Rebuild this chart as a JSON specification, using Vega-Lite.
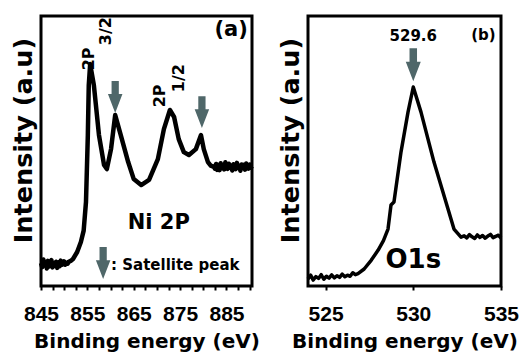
{
  "$schema": "https://vega.github.io/schema/vega-lite/v6.json",
  "padding": {"left": 9, "top": 14, "right": 5, "bottom": 0},
  "background": "white",
  "bounds": "flush",
  "spacing": 56,
  "config": {
    "view": {"stroke": "black", "strokeWidth": 3},
    "axis": {
      "grid": false,
      "domain": false,
      "labelFont": "Liberation Sans",
      "labelFontWeight": "bold",
      "labelFontSize": 21,
      "labelColor": "black",
      "labelFlush": false,
      "tickColor": "black",
      "tickSize": 4,
      "tickWidth": 2,
      "labelPadding": 13,
      "titleFont": "DejaVu Sans",
      "titleFontWeight": "bold",
      "titleColor": "black"
    }
  },
  "datasets": {
    "ni": [
      {"e": 845, "i": 8.5}, {"e": 845.25, "i": 7.0}, {"e": 845.5, "i": 9.8}, {"e": 845.75, "i": 7.6},
      {"e": 846, "i": 8.9}, {"e": 846.25, "i": 6.5}, {"e": 846.5, "i": 9.3}, {"e": 846.75, "i": 7.2},
      {"e": 847, "i": 8.1}, {"e": 847.25, "i": 9.6}, {"e": 847.5, "i": 6.9}, {"e": 847.75, "i": 8.4},
      {"e": 848, "i": 7.5}, {"e": 848.25, "i": 9.0}, {"e": 848.5, "i": 6.7}, {"e": 848.75, "i": 8.8},
      {"e": 849, "i": 7.3}, {"e": 849.25, "i": 9.4}, {"e": 849.5, "i": 7.8}, {"e": 849.75, "i": 8.2},
      {"e": 850, "i": 9.1}, {"e": 850.25, "i": 7.9}, {"e": 850.5, "i": 8.6}, {"e": 850.75, "i": 8.3},
      {"e": 851, "i": 9.0}, {"e": 851.5, "i": 9.4}, {"e": 851.9, "i": 10.0}, {"e": 852.8, "i": 12.6},
      {"e": 853.6, "i": 16.3}, {"e": 854.2, "i": 20.5}, {"e": 854.7, "i": 31.1}, {"e": 855.1, "i": 55.9},
      {"e": 855.3, "i": 74.4}, {"e": 855.6, "i": 82.2}, {"e": 856.4, "i": 74.4}, {"e": 857.5, "i": 55.9},
      {"e": 858.6, "i": 44.8}, {"e": 859.2, "i": 43.3}, {"e": 860.1, "i": 50.7}, {"e": 861.0, "i": 63.3},
      {"e": 862.2, "i": 55.9}, {"e": 863.8, "i": 45.9}, {"e": 865.0, "i": 39.6}, {"e": 866.6, "i": 37.4},
      {"e": 868.3, "i": 39.3}, {"e": 870.2, "i": 47.0}, {"e": 871.5, "i": 58.1}, {"e": 872.8, "i": 65.2},
      {"e": 873.7, "i": 62.6}, {"e": 874.7, "i": 54.4}, {"e": 875.8, "i": 49.6}, {"e": 876.9, "i": 48.5},
      {"e": 878.4, "i": 50.7}, {"e": 879.5, "i": 55.9}, {"e": 880.1, "i": 50.7}, {"e": 881.0, "i": 45.9},
      {"e": 881.6, "i": 44.6}, {"e": 882.3, "i": 44.1},
      {"e": 882.5, "i": 43.5}, {"e": 882.75, "i": 45.2}, {"e": 883, "i": 43.0}, {"e": 883.25, "i": 44.8},
      {"e": 883.5, "i": 42.9}, {"e": 883.75, "i": 45.5}, {"e": 884, "i": 43.6}, {"e": 884.25, "i": 44.9},
      {"e": 884.5, "i": 43.2}, {"e": 884.75, "i": 45.8}, {"e": 885, "i": 44.1}, {"e": 885.25, "i": 43.4},
      {"e": 885.5, "i": 45.3}, {"e": 885.75, "i": 43.8}, {"e": 886, "i": 44.7}, {"e": 886.25, "i": 42.8},
      {"e": 886.5, "i": 45.1}, {"e": 886.75, "i": 44.0}, {"e": 887, "i": 43.3}, {"e": 887.25, "i": 45.6},
      {"e": 887.5, "i": 43.9}, {"e": 887.75, "i": 44.5}, {"e": 888, "i": 42.7}, {"e": 888.25, "i": 45.0},
      {"e": 888.5, "i": 43.7}, {"e": 888.75, "i": 44.9}, {"e": 889, "i": 43.1}, {"e": 889.25, "i": 45.4},
      {"e": 889.5, "i": 44.2}, {"e": 889.75, "i": 43.5}, {"e": 890, "i": 45.0}, {"e": 890.25, "i": 43.8},
      {"e": 890.5, "i": 44.4}
    ],
    "o": [
      {"e": 524.0, "i": 2.6}, {"e": 524.15, "i": 4.0}, {"e": 524.3, "i": 2.2}, {"e": 524.45, "i": 3.5},
      {"e": 524.6, "i": 2.8}, {"e": 524.75, "i": 4.2}, {"e": 524.9, "i": 2.5}, {"e": 525.05, "i": 3.6},
      {"e": 525.2, "i": 2.9}, {"e": 525.35, "i": 4.1}, {"e": 525.5, "i": 3.0}, {"e": 525.65, "i": 3.8},
      {"e": 525.8, "i": 3.2}, {"e": 525.95, "i": 4.4}, {"e": 526.1, "i": 3.4}, {"e": 526.25, "i": 4.0},
      {"e": 526.4, "i": 3.6}, {"e": 526.55, "i": 4.9}, {"e": 526.7, "i": 4.2}, {"e": 526.85, "i": 4.6},
      {"e": 527.2, "i": 6.3}, {"e": 527.6, "i": 9.5}, {"e": 528.0, "i": 13.3}, {"e": 528.3, "i": 16.8},
      {"e": 528.56, "i": 21.1}, {"e": 528.73, "i": 30.0}, {"e": 528.9, "i": 31.1}, {"e": 529.3, "i": 49.6},
      {"e": 529.7, "i": 64.4}, {"e": 530.0, "i": 73.7}, {"e": 530.44, "i": 64.4}, {"e": 531.18, "i": 45.9},
      {"e": 531.98, "i": 28.5}, {"e": 532.32, "i": 21.1}, {"e": 532.72, "i": 18.1},
      {"e": 532.9, "i": 18.6}, {"e": 533.05, "i": 17.8}, {"e": 533.2, "i": 19.0}, {"e": 533.35, "i": 18.2},
      {"e": 533.5, "i": 17.6}, {"e": 533.65, "i": 18.9}, {"e": 533.8, "i": 18.0}, {"e": 533.95, "i": 18.7},
      {"e": 534.1, "i": 17.7}, {"e": 534.25, "i": 18.5}, {"e": 534.4, "i": 19.1}, {"e": 534.55, "i": 17.9},
      {"e": 534.7, "i": 18.4}, {"e": 534.85, "i": 18.8}, {"e": 535.0, "i": 17.8}
    ],
    "niBig": [
      {"e": 886.0, "i": 94.8, "t": "(a)"},
      {"e": 870.4, "i": 23.3, "t": "Ni 2P"}
    ],
    "niRot": [
      {"e": 855.3, "i": 84.1, "t": "2P"},
      {"e": 859.0, "i": 94.4, "t": "3/2"},
      {"e": 870.6, "i": 70.4, "t": "2P"},
      {"e": 874.7, "i": 77.0, "t": "1/2"}
    ],
    "niLegend": [
      {"e": 860.1, "i": 7.8, "t": ": Satellite peak"}
    ],
    "niArrows": [
      {"e": 861.0, "i": 70.0},
      {"e": 879.7, "i": 64.4},
      {"e": 858.4, "i": 8.5}
    ],
    "oSmall": [
      {"e": 530.0, "i": 92.6, "t": "529.6"},
      {"e": 534.0, "i": 93.0, "t": "(b)"}
    ],
    "oBig": [
      {"e": 530.0, "i": 9.6, "t": "O1s"}
    ],
    "oArrows": [
      {"e": 530.0, "i": 81.9}
    ]
  },
  "hconcat": [
    {
      "width": 211,
      "height": 270,
      "encoding": {
        "x": {
          "field": "e", "type": "quantitative",
          "scale": {"domain": [845, 890.5], "nice": false, "zero": false},
          "axis": {
            "title": "Binding energy (eV)",
            "titleFontSize": 20,
            "titlePadding": 7,
            "values": [845, 847.5, 850, 852.5, 855, 857.5, 860, 862.5, 865, 867.5, 870, 872.5, 875, 877.5, 880, 882.5, 885, 887.5, 890],
            "labelExpr": "(datum.value - 845) % 10 == 0 ? datum.label : ''"
          }
        },
        "y": {
          "field": "i", "type": "quantitative",
          "scale": {"domain": [0, 100], "nice": false, "zero": false},
          "axis": {
            "title": "Intensity (a.u)",
            "titleFontSize": 25.5,
            "titlePadding": 5,
            "titleY": 124,
            "labels": false,
            "ticks": false
          }
        }
      },
      "layer": [
        {
          "data": {"name": "ni"},
          "mark": {"type": "line", "color": "black", "strokeWidth": 4.5, "strokeJoin": "round"},
          "encoding": {}
        },
        {
          "data": {"name": "niArrows"},
          "mark": {"type": "point", "shape": "M-0.5,-2.2L0.5,-2.2L0.5,-0.4L1,-0.4L0,2.2L-1,-0.4L-0.5,-0.4Z", "filled": true, "color": "#4f6769", "opacity": 1, "size": 210}
        },
        {
          "data": {"name": "niBig"},
          "mark": {"type": "text", "font": "DejaVu Sans", "fontWeight": "bold", "fontSize": 21, "color": "black", "align": "center", "baseline": "middle"},
          "encoding": {"text": {"field": "t"}}
        },
        {
          "data": {"name": "niRot"},
          "mark": {"type": "text", "font": "DejaVu Sans", "fontWeight": "bold", "fontSize": 16, "color": "black", "align": "center", "baseline": "middle", "angle": 270},
          "encoding": {"text": {"field": "t"}}
        },
        {
          "data": {"name": "niLegend"},
          "mark": {"type": "text", "font": "DejaVu Sans", "fontWeight": "bold", "fontSize": 15, "color": "black", "align": "left", "baseline": "middle"},
          "encoding": {"text": {"field": "t"}}
        }
      ]
    },
    {
      "width": 193,
      "height": 270,
      "encoding": {
        "x": {
          "field": "e", "type": "quantitative",
          "scale": {"domain": [524, 535], "nice": false, "zero": false},
          "axis": {
            "title": "Binding energy (eV)",
            "titleFontSize": 20,
            "titlePadding": 7,
            "values": [525, 530, 535]
          }
        },
        "y": {
          "field": "i", "type": "quantitative",
          "scale": {"domain": [0, 100], "nice": false, "zero": false},
          "axis": {
            "title": "Intensity (a.u)",
            "titleFontSize": 25.5,
            "titlePadding": 5,
            "titleY": 124,
            "labels": false,
            "ticks": false
          }
        }
      },
      "layer": [
        {
          "data": {"name": "o"},
          "mark": {"type": "line", "color": "black", "strokeWidth": 3.5, "strokeJoin": "round"},
          "encoding": {}
        },
        {
          "data": {"name": "oArrows"},
          "mark": {"type": "point", "shape": "M-0.5,-2.2L0.5,-2.2L0.5,-0.4L1,-0.4L0,2.2L-1,-0.4L-0.5,-0.4Z", "filled": true, "color": "#4f6769", "opacity": 1, "size": 225}
        },
        {
          "data": {"name": "oSmall"},
          "mark": {"type": "text", "font": "DejaVu Sans", "fontWeight": "bold", "fontSize": 15, "color": "black", "align": "center", "baseline": "middle"},
          "encoding": {"text": {"field": "t"}}
        },
        {
          "data": {"name": "oBig"},
          "mark": {"type": "text", "font": "DejaVu Sans", "fontWeight": "bold", "fontSize": 26, "color": "black", "align": "center", "baseline": "middle"},
          "encoding": {"text": {"field": "t"}}
        }
      ]
    }
  ]
}
